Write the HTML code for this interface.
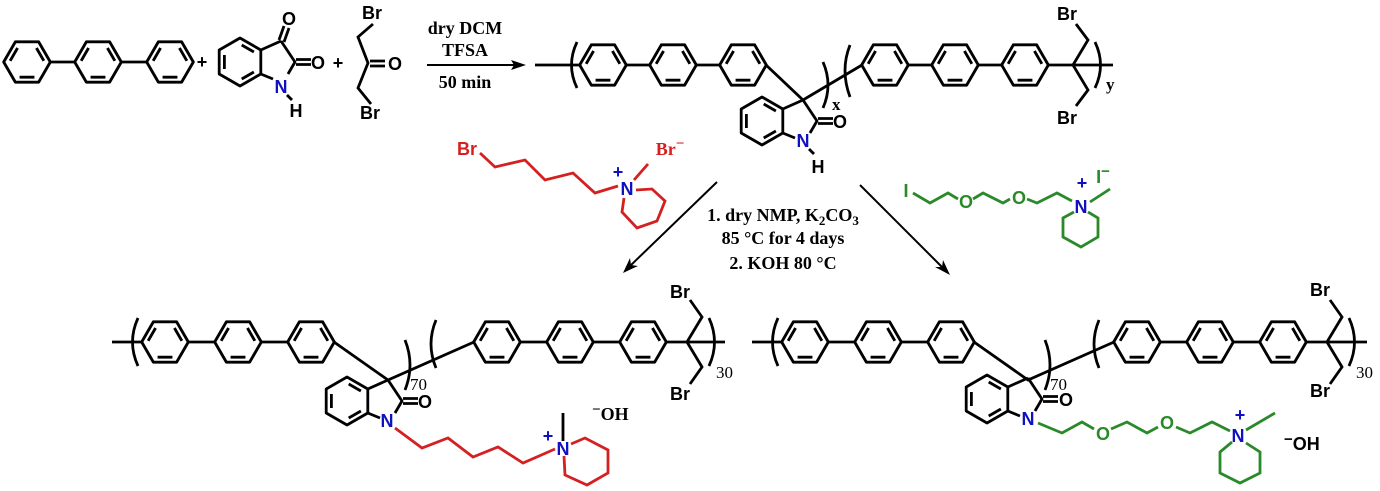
<!DOCTYPE html>
<html><head><meta charset="utf-8"><style>
html,body{margin:0;padding:0;background:#fff}
svg{display:block}
.a{font-family:"Liberation Sans",sans-serif;font-size:18px;font-weight:bold}
.s{font-family:"Liberation Serif",serif;font-weight:bold;font-size:18px}
.n{font-family:"Liberation Serif",serif;font-size:17px}
</style></head><body>
<svg width="1380" height="491" viewBox="0 0 1380 491" xmlns="http://www.w3.org/2000/svg">
<defs>
<g id="ph0" fill="none" stroke="#000" stroke-width="2.7" stroke-linejoin="round">
<path d="M-22,0 L-11,-19 L11,-19 L22,0 L11,19 L-11,19 Z"/>
<path d="M-15.9,-1.1 L-8.9,-13.2 M15.9,-1.1 L8.9,-13.2 M-7,14.3 L7,14.3"/>
</g>
<g id="ph"><use href="#ph0" transform="scale(1.06)"/></g>
<g id="ox" fill="none" stroke="#000" stroke-width="2.8" stroke-linejoin="round">
<path d="M-41,-3 L-20.2,9 L-20.2,33 L-41,45 L-61.8,33 L-61.8,9 Z"/>
<path d="M-56.6,14 L-56.6,28 M-39.3,4 L-27.1,11 M-39.3,38 L-27.1,31"/>
<path d="M0,0 L-20.2,9 M0,0 L14,21 L7,33 M-20.2,33 L-8,38"/>
<path d="M15,18.5 L30,18.5 M15,23.5 L30,23.5"/>
</g>
</defs>

<!-- top left reactants -->
<use href="#ph" x="27" y="62"/><use href="#ph" x="98" y="62"/><use href="#ph" x="170" y="62"/>
<path d="M50,62 L75,62 M121,62 L147,62" stroke="#000" stroke-width="2.8"/>
<text x="202" y="68" class="a" font-weight="normal" text-anchor="middle">+</text>
<use href="#ox" x="281" y="41"/>
<path d="M279,40 L284,26 M284,42 L289,28" stroke="#000" stroke-width="2.8"/>
<text x="289" y="25" class="a" text-anchor="middle">O</text>
<text x="318" y="69" class="a" text-anchor="middle">O</text>
<text x="281" y="93" class="a" text-anchor="middle" fill="#1010c0">N</text>
<path d="M287,95 L292,100" stroke="#000" stroke-width="2.8"/>
<text x="296" y="117" class="a" text-anchor="middle">H</text>
<text x="338" y="69" class="a" font-weight="normal" text-anchor="middle">+</text>
<path d="M373,24 L358,37 L368,63 L358,88 L371,104 M370,61 L385,61 M370,66 L385,66" fill="none" stroke="#000" stroke-width="2.8"/>
<text x="372" y="19" class="a" text-anchor="middle">Br</text>
<text x="395" y="70" class="a" text-anchor="middle">O</text>
<text x="370" y="119" class="a" text-anchor="middle">Br</text>

<!-- reaction arrow -->
<path d="M427,65 L515,65" stroke="#000" stroke-width="2"/>
<path d="M526,65 L511,60 L514,65 L511,70 Z" fill="#000"/>
<text x="465" y="34" class="s" text-anchor="middle">dry DCM</text>
<text x="465" y="56" class="s" text-anchor="middle">TFSA</text>
<text x="465" y="88" class="s" text-anchor="middle">50 min</text>

<!-- top polymer -->
<g stroke="#000" stroke-width="2.8" fill="none">
<path d="M535,65 L580,65 M626,65 L650,65 M696,65 L720,65 M766,65 L803,100 L862,65 M908,65 L932,65 M978,65 L1002,65 M1048,65 L1113,65"/>
<path d="M1073,65 L1088,40 L1076,24 M1073,65 L1088,90 L1076,106"/>
<path d="M577,42 Q566,65 577,88"/>
<path d="M823,62 Q833,85 823,108"/>
<path d="M850,45 Q840,70 850,97"/>
<path d="M1095,42 Q1106,65 1095,88"/>
</g>
<use href="#ph" x="603" y="65"/><use href="#ph" x="673" y="65"/><use href="#ph" x="743" y="65"/>
<use href="#ph" x="885" y="65"/><use href="#ph" x="955" y="65"/><use href="#ph" x="1025" y="65"/>
<use href="#ox" x="803" y="100"/>
<text x="840" y="128" class="a" text-anchor="middle">O</text>
<text x="803" y="147" class="a" text-anchor="middle" fill="#1010c0">N</text>
<path d="M809,149 L814,154" stroke="#000" stroke-width="2.8"/>
<text x="818" y="173" class="a" text-anchor="middle">H</text>
<text x="832" y="110" class="n" text-anchor="start" font-weight="bold">x</text>
<text x="1106" y="90" class="n" font-weight="bold">y</text>
<text x="1067" y="20" class="a" text-anchor="middle">Br</text>
<text x="1067" y="124" class="a" text-anchor="middle">Br</text>

<!-- red reagent -->
<g stroke="#d42020" stroke-width="2.8" fill="none">
<path d="M480,153 L495,167 L525,160 L545,180 L573,173 L595,193 L618,186"/>
<path d="M634,180 L648,164"/>
<path d="M624,198 L622,212 L637,228 L657,221 L665,201 L652,189 L636,190"/>
</g>
<text x="467" y="155" class="a" text-anchor="middle" fill="#d42020">Br</text>
<text x="627" y="195" class="a" text-anchor="middle" fill="#1010c0">N</text>
<text x="618" y="178" class="a" text-anchor="middle" fill="#1010c0" font-size="14">+</text>
<text x="670" y="155" class="s" text-anchor="middle" fill="#d42020">Br<tspan dy="-7" font-size="15">−</tspan></text>

<!-- middle arrows and text -->
<path d="M717,182 L630,266" stroke="#000" stroke-width="2"/>
<path d="M623,273 L630,258 L631,265 L638,266 Z" fill="#000"/>
<path d="M860,185 L943,268" stroke="#000" stroke-width="2"/>
<path d="M950,275 L935,267 L942,267 L943,260 Z" fill="#000"/>
<text x="783" y="221" class="s" text-anchor="middle">1.  dry NMP, K<tspan font-size="13" dy="4">2</tspan><tspan dy="-4">CO</tspan><tspan font-size="13" dy="4">3</tspan></text>
<text x="783" y="244" class="s" text-anchor="middle">85 °C for 4 days</text>
<text x="783" y="269" class="s" text-anchor="middle">2. KOH 80 °C</text>

<!-- green reagent -->
<g stroke="#2a8a2a" stroke-width="2.8" fill="none">
<path d="M913,193 L930,203 L948,193 L958,199 M973,199 L983,193 L1003,203 L1010,199 M1027,199 L1037,203 L1057,193 L1072,201"/>
<path d="M1090,202 L1110,189"/>
<path d="M1074,212 L1063,218 L1063,237 L1081,247 L1098,237 L1098,218 L1088,212"/>
</g>
<text x="906" y="197" class="a" text-anchor="middle" fill="#2a8a2a">I</text>
<text x="966" y="208" class="a" text-anchor="middle" fill="#2a8a2a">O</text>
<text x="1019" y="204" class="a" text-anchor="middle" fill="#2a8a2a">O</text>
<text x="1081" y="213" class="a" text-anchor="middle" fill="#1010c0">N</text>
<text x="1082" y="189" class="a" text-anchor="middle" fill="#1010c0" font-size="14">+</text>
<text x="1103" y="183" class="a" text-anchor="middle" fill="#2a8a2a">I<tspan dy="-7" font-size="15">−</tspan></text>

<!-- bottom left polymer -->
<g stroke="#000" stroke-width="2.8" fill="none">
<path d="M112,342 L142,342 M188,342 L215,342 M261,342 L288,342 M334,342 L388,380 L474,342 M520,342 L547,342 M593,342 L620,342 M666,342 L725,342"/>
<path d="M687,342 L702,317 L690,300 M687,342 L702,367 L690,384"/>
<path d="M138,318 Q127,342 138,366"/>
<path d="M405,340 Q415,365 405,390"/>
<path d="M436,320 Q426,344 436,368"/>
<path d="M709,318 Q720,342 709,366"/>
</g>
<use href="#ph" x="165" y="342"/><use href="#ph" x="238" y="342"/><use href="#ph" x="311" y="342"/>
<use href="#ph" x="497" y="342"/><use href="#ph" x="570" y="342"/><use href="#ph" x="643" y="342"/>
<use href="#ox" x="388" y="380"/>
<text x="425" y="408" class="a" text-anchor="middle">O</text>
<text x="387" y="427" class="a" text-anchor="middle" fill="#1010c0">N</text>
<text x="410" y="390" class="n">70</text>
<text x="716" y="378" class="n">30</text>
<text x="680" y="298" class="a" text-anchor="middle">Br</text>
<text x="680" y="400" class="a" text-anchor="middle">Br</text>
<g stroke="#d42020" stroke-width="2.8" fill="none">
<path d="M395,428 L422,448 L448,438 L473,457 L498,447 L523,463 L555,449"/>
<path d="M571,444 L585,438 L608,450 L608,473 L587,485 L565,475 L564,456"/>
</g>
<path d="M563,441 L563,413" stroke="#000" stroke-width="2.8"/>
<text x="563" y="455" class="a" text-anchor="middle" fill="#1010c0">N</text>
<text x="548" y="442" class="a" text-anchor="middle" fill="#1010c0" font-size="14">+</text>
<text x="592" y="420" class="s"><tspan dy="-6" font-size="15">−</tspan><tspan dy="6">OH</tspan></text>

<!-- bottom right polymer -->
<g stroke="#000" stroke-width="2.8" fill="none">
<path d="M752,342 L782,342 M828,342 L855,342 M901,342 L928,342 M974,342 L1028,380 L1114,342 M1160,342 L1187,342 M1233,342 L1260,342 M1306,342 L1367,342"/>
<path d="M1327,342 L1342,317 L1330,300 M1327,342 L1342,367 L1330,384"/>
<path d="M778,318 Q767,342 778,366"/>
<path d="M1045,340 Q1055,365 1045,390"/>
<path d="M1099,320 Q1089,344 1099,368"/>
<path d="M1349,318 Q1360,342 1349,366"/>
</g>
<use href="#ph" x="805" y="342"/><use href="#ph" x="878" y="342"/><use href="#ph" x="951" y="342"/>
<use href="#ph" x="1137" y="342"/><use href="#ph" x="1210" y="342"/><use href="#ph" x="1283" y="342"/>
<use href="#ox" x="1028" y="378"/>
<text x="1066" y="406" class="a" text-anchor="middle">O</text>
<text x="1028" y="425" class="a" text-anchor="middle" fill="#1010c0">N</text>
<text x="1050" y="390" class="n">70</text>
<text x="1356" y="378" class="n">30</text>
<text x="1320" y="296" class="a" text-anchor="middle">Br</text>
<text x="1320" y="397" class="a" text-anchor="middle">Br</text>
<g stroke="#2a8a2a" stroke-width="2.8" fill="none">
<path d="M1038,423 L1062,433 L1082,422 L1094,429 M1111,429 L1127,422 L1147,433 L1158,427 M1176,427 L1190,433 L1212,422 L1230,431"/>
<path d="M1246,430 L1275,413"/>
<path d="M1232,442 L1220,452 L1220,473 L1240,483 L1260,473 L1260,452 L1246,443"/>
</g>
<text x="1103" y="440" class="a" text-anchor="middle" fill="#2a8a2a">O</text>
<text x="1167" y="429" class="a" text-anchor="middle" fill="#2a8a2a">O</text>
<text x="1238" y="442" class="a" text-anchor="middle" fill="#1010c0">N</text>
<text x="1240" y="421" class="a" text-anchor="middle" fill="#1010c0" font-size="14">+</text>
<text x="1284" y="450" class="a"><tspan dy="-6" font-size="15">−</tspan><tspan dy="6">OH</tspan></text>
</svg>
</body></html>
